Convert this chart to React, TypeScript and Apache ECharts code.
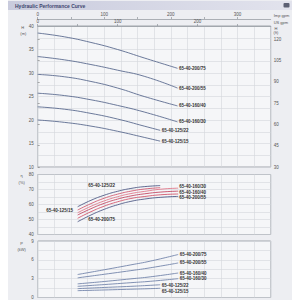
import React, { useEffect, useRef } from "react";
import * as echarts from "echarts";

// Model names
const MODELS = ["65-40-200/75", "65-40-200/55", "65-40-160/40", "65-40-160/30", "65-40-125/22", "65-40-125/15"];

// Head curves (flow in US gpm, head in m)
const HEAD_Q_LARGE = [0, 40, 80, 120, 160, 210];
const HEAD_Q_SMALL = [0, 40, 80, 120, 160, 184];
const HEAD_200_75 = [38.5, 37.7, 36.5, 35.0, 33.2, 31.0];
const HEAD_200_55 = [33.5, 32.8, 31.8, 30.6, 29.3, 26.8];
const HEAD_160_40 = [29.7, 29.2, 28.2, 26.8, 25.0, 23.0];
const HEAD_160_30 = [25.7, 25.2, 24.3, 23.1, 21.7, 19.6];
const HEAD_125_22 = [22.8, 22.3, 21.4, 20.2, 18.7, 17.8];
const HEAD_125_15 = [20.0, 19.5, 18.7, 17.6, 16.3, 15.5];

// Efficiency curves (%)
const EFF_Q_LARGE = [60, 80, 100, 120, 140, 160, 185, 211];
const EFF_Q_SMALL = [60, 80, 100, 120, 140, 160, 184];
const EFF_200_75 = [48.5, 53.0, 56.8, 59.8, 62.1, 63.6, 64.8, 65.4];
const EFF_200_55 = [50.8, 55.2, 58.9, 61.8, 64.0, 65.3, 66.5, 67.0];
const EFF_160_40 = [53.0, 57.2, 60.8, 63.6, 65.7, 67.1, 68.3, 68.9];
const EFF_160_30 = [54.5, 58.8, 62.4, 65.2, 67.3, 68.7, 70.2, 70.9];
const EFF_125_22 = [56.3, 60.6, 64.2, 66.9, 68.9, 70.3, 71.2];
const EFF_125_15 = [58.5, 62.8, 66.2, 68.8, 70.7, 71.9, 72.6];

// Power curves (kW)
const POW_Q_LARGE = [60, 100, 140, 169, 211];
const POW_Q_SMALL = [60, 100, 140, 169, 184];
const POW_200_75 = [3.66, 4.42, 5.2, 5.79, 6.85];
const POW_200_55 = [3.13, 3.7, 4.28, 4.73, 5.5];
const POW_160_40 = [2.17, 2.55, 2.97, 3.29, 3.9];
const POW_160_30 = [1.78, 2.06, 2.36, 2.58, 3.0];
const POW_125_22 = [1.41, 1.6, 1.78, 1.94, 2.03];
const POW_125_15 = [1.09, 1.2, 1.32, 1.41, 1.47];

// Efficiency label anchor points [flow, eff]
const EFF_LABELS: Record<string, { coord: number[]; pos: string }> = {
  "65-40-125/22": { coord: [96, 73], pos: "inside" },
  "65-40-125/15": { coord: [33, 56.3], pos: "inside" },
  "65-40-200/75": { coord: [96, 50.1], pos: "inside" },
  "65-40-160/30": { coord: [211, 72.3], pos: "right" },
  "65-40-160/40": { coord: [211, 67.9], pos: "right" },
  "65-40-200/55": { coord: [211, 64.5], pos: "right" },
};

// Power end-label vertical nudges (px)
const POW_LABEL_DY = [0, 0, 0, 0, 0.5, 3.2];

const FONT = "Liberation Sans";
const zip = (xs: number[], ys: number[]) => xs.map((x, i) => [x, ys[i]]);

export default function App() {
  const ref = useRef<HTMLDivElement>(null);
  useEffect(() => {
    if (!ref.current) return;
    const chart = echarts.init(ref.current, undefined, { renderer: "svg" });

    const headData = [
      zip(HEAD_Q_LARGE, HEAD_200_75),
      zip(HEAD_Q_LARGE, HEAD_200_55),
      zip(HEAD_Q_LARGE, HEAD_160_40),
      zip(HEAD_Q_LARGE, HEAD_160_30),
      zip(HEAD_Q_SMALL, HEAD_125_22),
      zip(HEAD_Q_SMALL, HEAD_125_15),
    ];
    const effData = [
      zip(EFF_Q_LARGE, EFF_200_75),
      zip(EFF_Q_LARGE, EFF_200_55),
      zip(EFF_Q_LARGE, EFF_160_40),
      zip(EFF_Q_LARGE, EFF_160_30),
      zip(EFF_Q_SMALL, EFF_125_22),
      zip(EFF_Q_SMALL, EFF_125_15),
    ];
    const powData = [
      zip(POW_Q_LARGE, POW_200_75),
      zip(POW_Q_LARGE, POW_200_55),
      zip(POW_Q_LARGE, POW_160_40),
      zip(POW_Q_LARGE, POW_160_30),
      zip(POW_Q_SMALL, POW_125_22),
      zip(POW_Q_SMALL, POW_125_15),
    ];
    const effColors = ["#4f5a86", "#d2566c", "#c44863", "#e0788a", "#d05a70", "#4f5a86"];

    const lbl = { fontSize: 4.5, color: "#555", fontFamily: FONT };
    const gridLine = { show: true, lineStyle: { color: "#d3d6dc", width: 0.6 } };
    const baseX = (gi: number) => ({
      type: "value",
      gridIndex: gi,
      min: 0,
      max: 350,
      interval: 25,
      axisLabel: { show: false },
      axisTick: { show: false },
      axisLine: { show: false },
      splitLine: gridLine,
    });
    const every = (step: number) => (v: number) =>
      Math.abs(v / step - Math.round(v / step)) < 1e-6 ? String(v) : "";
    const leftY = (gi: number, min: number, max: number, interval: number, step: number) => ({
      type: "value",
      gridIndex: gi,
      min,
      max,
      interval,
      position: "left",
      axisLine: { show: false },
      axisTick: { show: false },
      axisLabel: { ...lbl, margin: 4, formatter: every(step), showMinLabel: true, showMaxLabel: true },
      splitLine: gridLine,
    });
    const gridStyle = {
      show: true,
      backgroundColor: "#f5f6f8",
      borderColor: "#8e939b",
      borderWidth: 0.8,
      left: 37.7,
      right: 29.3,
    };
    const topAxis = (offset: number, max: number, name: string) => ({
      type: "value",
      gridIndex: 0,
      position: "top",
      offset,
      min: 0,
      max,
      interval: 50,
      name,
      nameLocation: "end",
      nameGap: 3,
      nameTextStyle: { ...lbl, fontSize: 4, verticalAlign: "bottom", padding: [0, 0, 2, 0] },
      axisLine: { show: true, onZero: false, lineStyle: { color: "#8e939b", width: 0.7 } },
      axisTick: { show: true, length: 2, lineStyle: { color: "#8e939b", width: 0.7 } },
      axisLabel: { ...lbl, margin: 2, formatter: every(100), showMaxLabel: false },
      splitLine: { show: false },
    });

    const endLbl = (dy: number) => ({
      show: true,
      formatter: "{a}",
      fontSize: 4.5,
      fontWeight: "bold",
      color: "#333",
      fontFamily: FONT,
      distance: 1.5,
      offset: [0, dy],
    });

    const series: any[] = [];
    MODELS.forEach((m, i) => {
      series.push({
        name: m,
        type: "line",
        xAxisIndex: 0,
        yAxisIndex: 0,
        data: headData[i],
        smooth: true,
        showSymbol: false,
        symbol: "none",
        lineStyle: { color: "#5b6b8e", width: 0.9 },
        endLabel: endLbl(0),
      });
    });
    MODELS.forEach((m, i) => {
      const lp = EFF_LABELS[m];
      series.push({
        name: m,
        type: "line",
        xAxisIndex: 3,
        yAxisIndex: 2,
        data: effData[i],
        smooth: true,
        showSymbol: false,
        symbol: "none",
        lineStyle: { color: effColors[i], width: 0.9 },
        markPoint: {
          symbol: "circle",
          symbolSize: 0,
          data: [{ coord: lp.coord }],
          label: {
            show: true,
            position: lp.pos,
            distance: 1,
            formatter: m,
            fontSize: 4.5,
            fontWeight: "bold",
            color: "#333",
            fontFamily: FONT,
          },
        },
      });
    });
    MODELS.forEach((m, i) => {
      series.push({
        name: m,
        type: "line",
        xAxisIndex: 4,
        yAxisIndex: 3,
        data: powData[i],
        smooth: true,
        showSymbol: false,
        symbol: "none",
        lineStyle: { color: "#7384aa", width: 0.9 },
        endLabel: endLbl(POW_LABEL_DY[i]),
      });
    });

    const t = (text: string, x: number, y: number, extra: any = {}) => ({
      type: "text",
      x,
      y,
      style: { text, fontSize: 4, fill: "#555", fontFamily: FONT, align: "center", verticalAlign: "middle", ...extra },
    });

    chart.setOption({
      animation: false,
      backgroundColor: "#ffffff",
      graphic: [
        { type: "rect", z: -10, shape: { x: 8, y: 0, width: 284, height: 300 }, style: { fill: "#edeef2" } },
        {
          type: "rect",
          z: -5,
          shape: { x: 8, y: 1, width: 284, height: 9 },
          style: {
            fill: new echarts.graphic.LinearGradient(0, 0, 1, 0, [
              { offset: 0, color: "#c9cbdd" },
              { offset: 1, color: "#e2e3ed" },
            ]),
          },
        },
        t("Hydraulic Performance Curve", 15, 5.6, { fontSize: 5, fill: "#3f4670", align: "left", fontWeight: "bold" }),
        { type: "rect", shape: { x: 283.5, y: 3, width: 6, height: 4.5, r: 1 }, style: { fill: "#5c6073" } },
        t("H", 22.7, 27),
        t("(m)", 23.3, 33),
        t("H", 276, 28),
        t("(ft)", 276, 32.5),
        t("η", 21.7, 175.5),
        t("(%)", 21.7, 182.5),
        t("P", 21.7, 243.5),
        t("(kW)", 21.7, 249),
      ],
      grid: [
        { ...gridStyle, top: 26, height: 141 },
        { ...gridStyle, top: 174.5, height: 60 },
        { ...gridStyle, top: 241, height: 57 },
      ],
      xAxis: [baseX(0), topAxis(7, 350, "Imp gpm"), topAxis(0, 291.4, "US gpm"), baseX(1), baseX(2)],
      yAxis: [
        leftY(0, 10, 40, 2.5, 5),
        {
          type: "value",
          gridIndex: 0,
          position: "right",
          min: 30,
          max: 129.3,
          interval: 15,
          axisLine: { show: false },
          axisTick: { show: true, length: 2, lineStyle: { color: "#777", width: 0.6 } },
          axisLabel: { ...lbl, margin: 3, showMaxLabel: false },
          splitLine: { show: false },
        },
        leftY(1, 40, 80, 5, 10),
        leftY(2, 0, 9, 1.5, 3),
      ],
      series,
    });
    return () => chart.dispose();
  }, []);
  return <div ref={ref} style={{ position: "fixed", left: 0, top: 0, width: 300, height: 300 }} />;
}
